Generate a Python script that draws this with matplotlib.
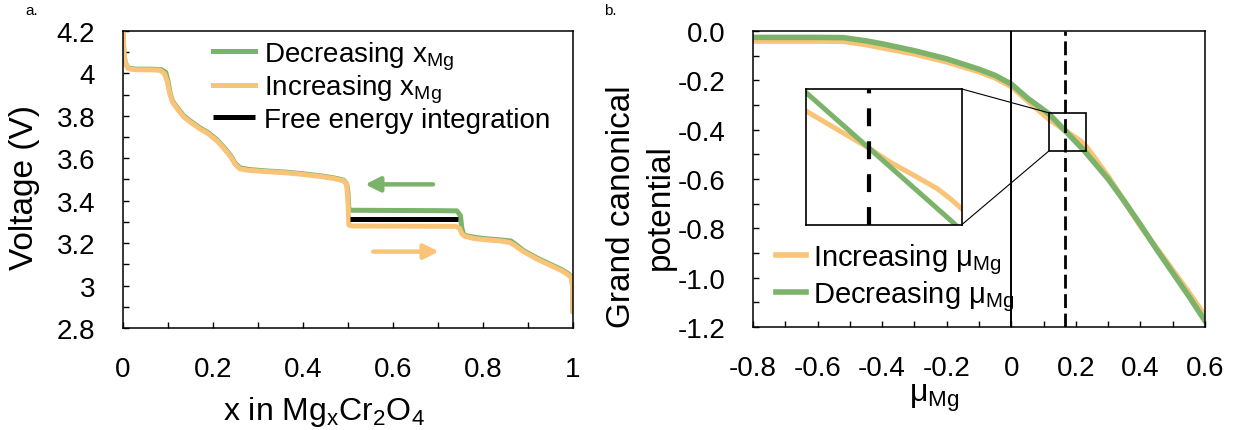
import matplotlib
matplotlib.use("Agg")
import matplotlib.pyplot as plt
from matplotlib.patches import Rectangle, ConnectionPatch

plt.rcParams['font.family'] = ['Liberation Sans', 'DejaVu Sans']
plt.rcParams['mathtext.fontset'] = 'custom'
plt.rcParams['mathtext.rm'] = 'Liberation Sans'
plt.rcParams['mathtext.it'] = 'Liberation Sans:italic'
plt.rcParams['axes.unicode_minus'] = False

GREEN = '#7BB36B'
ORANGE = '#F9C477'

# ---- panel a: voltage curve ----
x_dec = [0.0, 0.002, 0.005, 0.012, 0.03, 0.06, 0.085, 0.095, 0.10, 0.105, 0.11, 0.12,
         0.135, 0.15, 0.17, 0.19, 0.21, 0.225, 0.24, 0.25, 0.26, 0.28, 0.32, 0.36, 0.40,
         0.44, 0.47, 0.49, 0.497, 0.50, 0.502, 0.505, 0.60, 0.70, 0.742, 0.75, 0.753,
         0.758, 0.78, 0.80, 0.84, 0.862, 0.872, 0.89, 0.92, 0.95, 0.975, 0.99, 0.997,
         0.999, 1.0]
v_dec = [4.20, 4.10, 4.05, 4.025, 4.02, 4.02, 4.018, 4.005, 3.965, 3.905, 3.87, 3.84,
         3.80, 3.775, 3.745, 3.72, 3.685, 3.65, 3.61, 3.575, 3.555, 3.547, 3.54, 3.535,
         3.527, 3.517, 3.507, 3.497, 3.48, 3.44, 3.36, 3.355, 3.354, 3.353, 3.352, 3.33,
         3.27, 3.237, 3.228, 3.222, 3.215, 3.21, 3.195, 3.165, 3.13, 3.1, 3.075, 3.055,
         3.04, 3.0, 2.88]

x_inc = [0.0, 0.002, 0.005, 0.012, 0.03, 0.06, 0.082, 0.092, 0.098, 0.104, 0.11, 0.12,
         0.135, 0.15, 0.17, 0.19, 0.21, 0.225, 0.24, 0.25, 0.26, 0.28, 0.32, 0.36, 0.40,
         0.44, 0.47, 0.49, 0.497, 0.50, 0.502, 0.51, 0.74, 0.748, 0.753, 0.76, 0.78,
         0.80, 0.84, 0.86, 0.87, 0.89, 0.92, 0.95, 0.975, 0.99, 0.997, 0.999, 1.0]
v_inc = [4.20, 4.10, 4.05, 4.022, 4.017, 4.017, 4.015, 4.0, 3.965, 3.905, 3.865, 3.835,
         3.795, 3.77, 3.74, 3.715, 3.68, 3.645, 3.605, 3.57, 3.55, 3.543, 3.537, 3.532,
         3.524, 3.514, 3.504, 3.494, 3.478, 3.40, 3.285, 3.281, 3.279, 3.27, 3.245,
         3.232, 3.222, 3.217, 3.21, 3.203, 3.19, 3.16, 3.125, 3.095, 3.07, 3.05, 3.035,
         3.0, 2.88]

x_free = [0.505, 0.745]
v_free = [3.315, 3.315]

arrow_dec = [(0.689, 3.477), (0.538, 3.477)]
arrow_inc = [(0.556, 3.16), (0.702, 3.16)]

xa_ticks = [0, 0.2, 0.4, 0.6, 0.8, 1.0]
xa_labels = ['0', '0.2', '0.4', '0.6', '0.8', '1']
ya_ticks = [2.8, 3.0, 3.2, 3.4, 3.6, 3.8, 4.0, 4.2]
ya_labels = ['2.8', '3', '3.2', '3.4', '3.6', '3.8', '4', '4.2']

# ---- panel b: grand canonical potential ----
mu_inc = [-0.8, -0.7, -0.6, -0.52, -0.45, -0.4, -0.3, -0.2, -0.1, -0.05, 0.0, 0.05,
          0.117, 0.163, 0.1785, 0.196, 0.213, 0.223, 0.231, 0.25, 0.3, 0.35, 0.4, 0.45,
          0.5, 0.55, 0.6]
g_inc = [-0.041, -0.041, -0.041, -0.042, -0.055, -0.068, -0.093, -0.125, -0.165, -0.19,
         -0.225, -0.282, -0.357, -0.399, -0.415, -0.430, -0.445, -0.457, -0.468, -0.50,
         -0.59, -0.69, -0.79, -0.88, -0.97, -1.06, -1.155]

mu_dec = [-0.8, -0.6, -0.52, -0.45, -0.4, -0.3, -0.2, -0.1, -0.05, 0.0, 0.05, 0.117,
          0.163, 0.225, 0.3, 0.35, 0.4, 0.45, 0.5, 0.55, 0.6]
g_dec = [-0.026, -0.026, -0.027, -0.04, -0.052, -0.08, -0.113, -0.155, -0.18, -0.215,
         -0.272, -0.336, -0.399, -0.484, -0.60, -0.69, -0.785, -0.885, -0.98, -1.075,
         -1.175]

mu_cross = 0.165
zoom_x = [0.117, 0.231]
zoom_y = [-0.486, -0.332]

xb_ticks = [-0.8, -0.6, -0.4, -0.2, 0.0, 0.2, 0.4, 0.6]
xb_labels = ['-0.8', '-0.6', '-0.4', '-0.2', '0', '0.2', '0.4', '0.6']
yb_ticks = [-1.2, -1.0, -0.8, -0.6, -0.4, -0.2, 0.0]
yb_labels = ['-1.2', '-1.0', '-0.8', '-0.6', '-0.4', '-0.2', '0.0']

TICK_FS = 20

fig = plt.figure(figsize=(12.37, 4.31), dpi=100)
axa = fig.add_axes([0.0994, 0.2367, 0.3638, 0.6891])
axb = fig.add_axes([0.6087, 0.2390, 0.3654, 0.6868])


def style_axes(ax):
    for s in ax.spines.values():
        s.set_linewidth(1.1)
    ax.tick_params(which='both', direction='in', width=1.0, length=4.5,
                   labelsize=TICK_FS, pad=20, top=False, right=False)


# panel a
axa.plot(x_dec, v_dec, color=GREEN, lw=3.6, solid_joinstyle='round',
         label=r'Decreasing x$_\mathrm{Mg}$')
axa.plot(x_inc, v_inc, color=ORANGE, lw=3.6, solid_joinstyle='round',
         label=r'Increasing x$_\mathrm{Mg}$')
axa.plot(x_free, v_free, color='black', lw=3.6, solid_capstyle='butt',
         label='Free energy integration')
axa.annotate('', xy=arrow_dec[1], xytext=arrow_dec[0],
             arrowprops=dict(arrowstyle='-|>', color=GREEN, lw=3.2, mutation_scale=22,
                             shrinkA=0, shrinkB=0))
axa.annotate('', xy=arrow_inc[1], xytext=arrow_inc[0],
             arrowprops=dict(arrowstyle='-|>', color=ORANGE, lw=3.2, mutation_scale=22,
                             shrinkA=0, shrinkB=0))
axa.set_xlim(0, 1)
axa.set_ylim(2.8, 4.2)
axa.set_xticks(xa_ticks)
axa.set_xticklabels(xa_labels)
axa.set_yticks(ya_ticks)
axa.set_yticklabels(ya_labels)
axa.set_xticks([0.1, 0.3, 0.5, 0.7, 0.9], minor=True)
axa.set_yticks([2.9, 3.1, 3.3, 3.5, 3.7, 3.9, 4.1], minor=True)
style_axes(axa)
axa.set_ylabel('Voltage (V)', fontsize=24, va='center')
axa.yaxis.set_label_coords(-0.218, 0.476)
axa.set_xlabel(r'x in Mg$_\mathrm{x}$Cr$_\mathrm{2}$O$_\mathrm{4}$', fontsize=23)
axa.xaxis.label.set_verticalalignment('baseline')
axa.xaxis.set_label_coords(0.447, -0.306)
axa.legend(loc='upper left', bbox_to_anchor=(0.2, 0.972), frameon=False, fontsize=20,
           handlelength=1.5, handletextpad=0.32, labelspacing=0.05, borderpad=0,
           borderaxespad=0)
fig.text(0.0205, 0.975, 'a.', fontsize=11, va='center', ha='left')

# panel b
axb.plot(mu_inc, g_inc, color=ORANGE, lw=4, solid_joinstyle='round',
         label=r'Increasing μ$_\mathrm{Mg}$')
axb.plot(mu_dec, g_dec, color=GREEN, lw=4, solid_joinstyle='round',
         label=r'Decreasing μ$_\mathrm{Mg}$')
axb.axvline(0, color='black', lw=1.4)
axb.axvline(mu_cross, color='black', lw=2, dashes=(5, 2))
axb.add_patch(Rectangle((zoom_x[0], zoom_y[0]), zoom_x[1] - zoom_x[0],
                        zoom_y[1] - zoom_y[0], fill=False, ec='black', lw=1.2, zorder=5))
axb.set_xlim(-0.8, 0.6)
axb.set_ylim(-1.2, 0.0)
axb.set_xticks(xb_ticks)
axb.set_xticklabels(xb_labels)
axb.set_yticks(yb_ticks)
axb.set_yticklabels(yb_labels)
axb.set_xticks([-0.7, -0.5, -0.3, -0.1, 0.1, 0.3, 0.5], minor=True)
axb.set_yticks([-1.1, -0.9, -0.7, -0.5, -0.3, -0.1], minor=True)
style_axes(axb)
axb.set_ylabel('Grand canonical\npotential', fontsize=24, linespacing=1.3, va='center')
axb.yaxis.set_label_coords(-0.248, 0.409)
axb.set_xlabel(r'μ$_\mathrm{Mg}$', fontsize=23)
axb.xaxis.label.set_verticalalignment('baseline')
axb.xaxis.set_label_coords(0.40, -0.25)
axb.legend(loc='lower left', bbox_to_anchor=(0.052, 0.046), frameon=False, fontsize=21,
           handlelength=1.0, handletextpad=0.25, labelspacing=0.1, borderpad=0,
           borderaxespad=0)
fig.text(0.488, 0.975, 'b.', fontsize=11, va='center', ha='left')

# inset
axins = fig.add_axes([0.6516, 0.4763, 0.1259, 0.3149])
axins.plot(mu_inc, g_inc, color=ORANGE, lw=3.6, solid_joinstyle='round')
axins.plot(mu_dec, g_dec, color=GREEN, lw=3.6, solid_joinstyle='round')
axins.axvline(mu_cross - 0.002, color='black', lw=3, dashes=(4.3, 3.6))
axins.set_xlim(zoom_x)
axins.set_ylim(zoom_y)
axins.set_xticks([])
axins.set_yticks([])
for s in axins.spines.values():
    s.set_linewidth(1.2)

for ya_ins, yb_main in [(1, zoom_y[1]), (0, zoom_y[0])]:
    con = ConnectionPatch(xyA=(1, ya_ins), coordsA=axins.transAxes,
                          xyB=(zoom_x[0], yb_main), coordsB=axb.transData,
                          color='black', lw=0.8)
    fig.add_artist(con)

fig.savefig('out.png', dpi=100)
